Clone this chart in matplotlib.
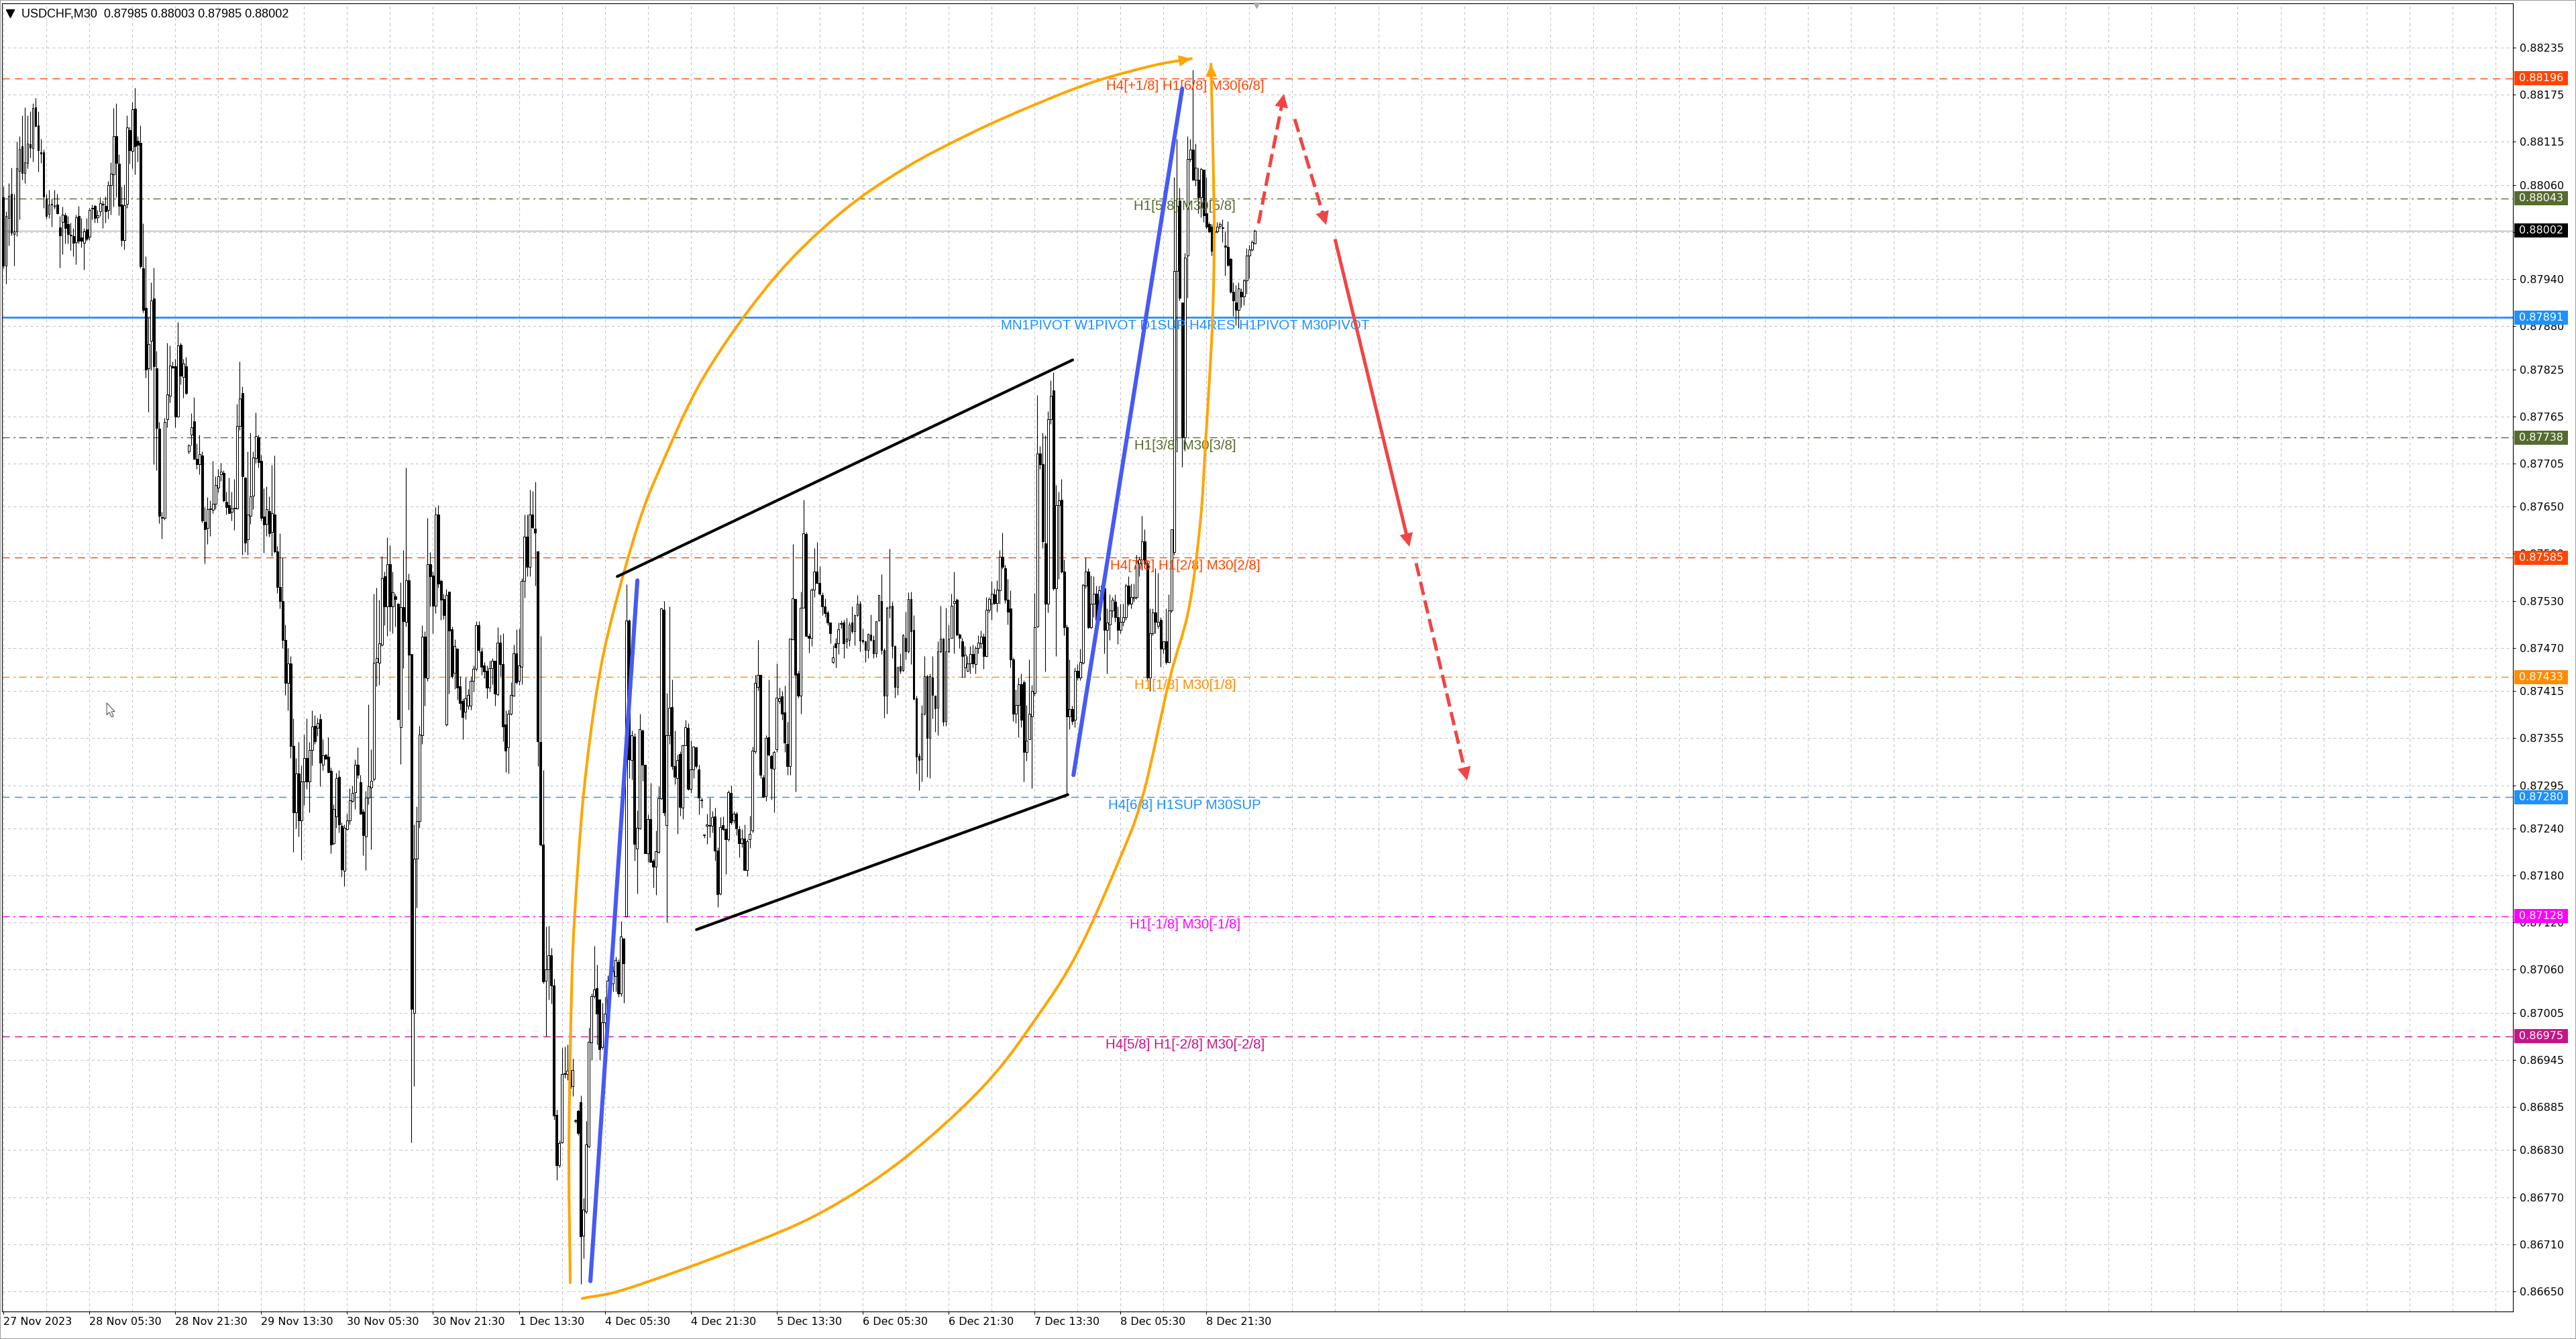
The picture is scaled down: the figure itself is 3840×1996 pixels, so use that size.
import numpy as np
import matplotlib
matplotlib.use("Agg")
import matplotlib.pyplot as plt
from matplotlib.patches import Rectangle, Polygon, PathPatch
from matplotlib.path import Path
from matplotlib.lines import Line2D
from matplotlib.transforms import blended_transform_factory

plt.rcParams['font.family'] = ['DejaVu Sans']

# ---------------- USDCHF M30 candles (price * 1e5), bar 0 = 27 Nov 13:30 ----------------
opens = [
    88044, 87957, 88018, 88049, 87997, 88001, 88078, 88109, 88075, 88088,
    88112, 88107, 88159, 88136, 88102, 88102, 88043, 88023, 88035, 88032,
    88035, 88006, 88013, 88021, 88010, 87996, 87995, 87987, 88020, 87993,
    87986, 88003, 87994, 88030, 88033, 88019, 88026, 88036, 88033, 88028,
    88060, 88073, 88122, 88087, 88035, 87990, 88036, 88130, 88103, 88157,
    88116, 88114, 87954, 87903, 87826, 87861, 87915, 87826, 87749, 87636,
    87636, 87761, 87791, 87829, 87829, 87765, 87856, 87815, 87829, 87720,
    87742, 87759, 87711, 87704, 87715, 87631, 87623, 87647, 87646, 87654,
    87674, 87691, 87693, 87656, 87652, 87643, 87648, 87648, 87753, 87795,
    87687, 87608, 87638, 87664, 87712, 87738, 87708, 87637, 87628, 87644,
    87618, 87640, 87593, 87548, 87530, 87480, 87425, 87450, 87345, 87260,
    87310, 87250, 87300, 87330, 87300, 87340, 87371, 87368, 87379, 87321,
    87334, 87331, 87313, 87221, 87255, 87306, 87243, 87186, 87239, 87250,
    87275, 87286, 87321, 87299, 87261, 87230, 87279, 87292, 87303, 87452,
    87451, 87474, 87561, 87523, 87577, 87523, 87536, 87526, 87369, 87522,
    87503, 87556, 87462, 87005, 87201, 87249, 87359, 87484, 87431, 87577,
    87562, 87524, 87640, 87555, 87532, 87372, 87542, 87494, 87438, 87469,
    87421, 87402, 87389, 87396, 87396, 87428, 87443, 87499, 87466, 87448,
    87441, 87419, 87444, 87454, 87411, 87477, 87449, 87372, 87343, 87386,
    87409, 87463, 87428, 87446, 87555, 87612, 87573, 87640, 87622, 87593,
    87350, 87219, 87046, 87060, 87078, 87040, 86875, 86811, 86840, 86927,
    86927, 86909, 86912, 86868, 86880, 86891, 86721, 86752, 86835, 86967,
    87026, 87036, 87022, 86961, 86993, 87005, 87046, 87042, 87052, 87070,
    87030, 87100, 87128, 87505, 87327, 87357, 87214, 87240, 87365, 87321,
    87208, 87252, 87199, 87191, 87210, 87278, 87519, 87244, 87359, 87395,
    87319, 87304, 87335, 87266, 87346, 87368, 87290, 87315, 87343, 87315,
    87276, 87231, 87243, 87243, 87243, 87255, 87212, 87157, 87244, 87239,
    87226, 87285, 87250, 87259, 87239, 87221, 87227, 87187, 87226, 87237,
    87338, 87420, 87436, 87305, 87281, 87356, 87332, 87316, 87341, 87402,
    87408, 87388, 87348, 87319, 87481, 87532, 87437, 87409, 87521, 87615,
    87485, 87483, 87544, 87567, 87553, 87537, 87523, 87515, 87502, 87452,
    87476, 87476, 87501, 87502, 87478, 87480, 87502, 87491, 87512, 87526,
    87480, 87478, 87467, 87487, 87480, 87463, 87505, 87530, 87467, 87409,
    87521, 87524, 87472, 87420, 87447, 87442, 87483, 87466, 87532, 87493,
    87406, 87332, 87328, 87386, 87434, 87355, 87432, 87409, 87394, 87466,
    87482, 87377, 87466, 87483, 87527, 87531, 87487, 87478, 87445, 87441,
    87450, 87462, 87449, 87470, 87476, 87484, 87460, 87519, 87526, 87538,
    87527, 87543, 87586, 87572, 87531, 87520, 87455, 87386, 87397, 87424,
    87426, 87337, 87354, 87383, 87413, 87497, 87718, 87704, 87603, 87526,
    87761, 87798, 87546, 87652, 87659, 87567, 87496, 87383, 87392, 87378,
    87441, 87432, 87451, 87549, 87567, 87496, 87526, 87539, 87506, 87542,
    87546, 87493, 87500, 87518, 87529, 87509, 87493, 87503, 87509, 87549,
    87526, 87533, 87535, 87578, 87583, 87606, 87578, 87432, 87489, 87515,
    87498, 87506, 87469, 87478, 87452, 87518, 87592, 87950, 88040, 87910,
    87738, 87970, 88093, 88105, 88067, 88067, 88044, 88079, 88024, 88010,
    88007, 88001, 88001, 88008, 88005, 87983, 87981, 87966, 87924, 87910,
    87901, 87924, 87918, 87938, 87970, 87978, 87985,
]
highs = [
    88058, 88026, 88062, 88082, 88049, 88115, 88122, 88149, 88159, 88149,
    88154, 88164, 88171, 88154, 88119, 88105, 88049, 88054, 88043, 88054,
    88049, 88020, 88032, 88025, 88020, 88012, 88005, 88022, 88033, 88018,
    88005, 88018, 88031, 88035, 88035, 88028, 88044, 88040, 88045, 88065,
    88089, 88158, 88164, 88099, 88058, 88061, 88149, 88134, 88166, 88184,
    88122, 88136, 88011, 87969, 87891, 87936, 87955, 87849, 87758, 87643,
    87763, 87859, 87855, 87835, 87838, 87885, 87859, 87838, 87841, 87730,
    87769, 87790, 87731, 87742, 87720, 87649, 87662, 87658, 87708, 87689,
    87698, 87706, 87696, 87669, 87687, 87669, 87685, 87781, 87835, 87803,
    87688, 87720, 87744, 87720, 87770, 87742, 87716, 87673, 87676, 87663,
    87703, 87715, 87600, 87616, 87585, 87500, 87470, 87460, 87380, 87330,
    87350, 87320, 87360, 87380, 87350, 87390, 87384, 87381, 87386, 87354,
    87335, 87356, 87318, 87271, 87311, 87314, 87248, 87245, 87259, 87291,
    87295, 87328, 87343, 87308, 87265, 87288, 87398, 87341, 87539, 87547,
    87531, 87587, 87567, 87611, 87601, 87567, 87539, 87527, 87554, 87595,
    87700, 87565, 87462, 87245, 87268, 87371, 87499, 87491, 87636, 87592,
    87567, 87649, 87652, 87557, 87539, 87545, 87542, 87497, 87481, 87469,
    87434, 87406, 87433, 87418, 87434, 87448, 87504, 87504, 87471, 87452,
    87448, 87454, 87457, 87454, 87496, 87487, 87489, 87390, 87391, 87426,
    87474, 87494, 87495, 87559, 87640, 87640, 87672, 87670, 87682, 87594,
    87485, 87314, 87115, 87116, 87088, 87048, 86882, 86842, 86960, 86962,
    86965, 86945, 86947, 86870, 86882, 86900, 86769, 86867, 86986, 87030,
    87090, 87066, 87023, 87018, 87025, 87053, 87060, 87065, 87077, 87073,
    87122, 87100, 87551, 87507, 87365, 87361, 87263, 87386, 87366, 87321,
    87258, 87298, 87201, 87237, 87294, 87521, 87530, 87413, 87523, 87430,
    87365, 87334, 87338, 87347, 87378, 87374, 87352, 87345, 87344, 87321,
    87279, 87232, 87259, 87279, 87262, 87266, 87216, 87254, 87255, 87241,
    87289, 87295, 87262, 87261, 87243, 87239, 87245, 87226, 87256, 87344,
    87436, 87480, 87436, 87308, 87359, 87430, 87334, 87339, 87450, 87419,
    87415, 87422, 87376, 87482, 87602, 87533, 87441, 87542, 87659, 87618,
    87489, 87546, 87597, 87605, 87574, 87541, 87533, 87518, 87502, 87473,
    87483, 87502, 87505, 87506, 87508, 87503, 87523, 87513, 87537, 87530,
    87495, 87479, 87489, 87513, 87486, 87504, 87537, 87564, 87470, 87523,
    87596, 87529, 87473, 87447, 87463, 87488, 87516, 87541, 87542, 87512,
    87409, 87336, 87397, 87460, 87436, 87437, 87460, 87409, 87478, 87524,
    87483, 87521, 87500, 87539, 87567, 87533, 87489, 87483, 87472, 87460,
    87472, 87474, 87472, 87486, 87492, 87489, 87535, 87535, 87555, 87546,
    87556, 87595, 87617, 87576, 87558, 87543, 87458, 87417, 87432, 87437,
    87429, 87397, 87455, 87423, 87540, 87792, 87727, 87744, 87741, 87772,
    87811, 87821, 87678, 87669, 87685, 87583, 87500, 87455, 87396, 87445,
    87449, 87469, 87552, 87585, 87572, 87562, 87561, 87549, 87549, 87550,
    87549, 87520, 87538, 87535, 87538, 87523, 87526, 87526, 87552, 87561,
    87552, 87552, 87589, 87586, 87638, 87621, 87581, 87520, 87520, 87572,
    87566, 87509, 87478, 87520, 87538, 87621, 88070, 88119, 88056, 87910,
    87973, 88122, 88119, 88207, 88113, 88082, 88082, 88079, 88070, 88013,
    88010, 88013, 88013, 88013, 88016, 88001, 88014, 87967, 87936, 87932,
    87936, 87928, 87940, 87979, 87984, 87990, 88003,
]
lows = [
    87954, 87934, 87983, 87996, 87957, 87995, 88016, 88067, 88062, 88081,
    88095, 88090, 88134, 88077, 88088, 88031, 88017, 88018, 88007, 88030,
    88023, 87955, 87972, 87985, 87985, 87977, 87969, 87959, 87985, 87980,
    87952, 87989, 87990, 88016, 88012, 88012, 88020, 88005, 88012, 88017,
    88022, 88032, 88044, 88021, 87982, 87978, 88031, 88087, 88081, 88073,
    88090, 87954, 87897, 87814, 87771, 87824, 87704, 87696, 87629, 87609,
    87633, 87751, 87783, 87826, 87751, 87764, 87806, 87789, 87793, 87718,
    87728, 87710, 87698, 87691, 87630, 87578, 87602, 87613, 87642, 87647,
    87668, 87683, 87656, 87640, 87642, 87632, 87620, 87647, 87748, 87589,
    87592, 87589, 87628, 87647, 87706, 87700, 87632, 87591, 87613, 87612,
    87587, 87591, 87540, 87520, 87470, 87410, 87390, 87330, 87210, 87240,
    87230, 87200, 87270, 87290, 87260, 87320, 87348, 87358, 87294, 87314,
    87328, 87311, 87208, 87219, 87241, 87235, 87178, 87166, 87238, 87245,
    87273, 87265, 87304, 87258, 87206, 87187, 87271, 87213, 87301, 87421,
    87423, 87472, 87499, 87485, 87491, 87489, 87497, 87378, 87322, 87444,
    87497, 87391, 86840, 86912, 87139, 87241, 87348, 87396, 87428, 87523,
    87489, 87514, 87547, 87506, 87507, 87371, 87412, 87431, 87418, 87404,
    87391, 87354, 87379, 87392, 87391, 87414, 87441, 87464, 87436, 87431,
    87406, 87414, 87424, 87396, 87409, 87434, 87351, 87312, 87310, 87384,
    87408, 87424, 87423, 87424, 87534, 87561, 87561, 87622, 87549, 87319,
    87218, 87042, 86975, 87022, 87017, 86869, 86792, 86808, 86839, 86922,
    86919, 86899, 86899, 86865, 86849, 86659, 86692, 86749, 86833, 86945,
    87024, 86965, 86945, 86959, 86975, 87002, 87040, 87032, 87032, 87025,
    87026, 87018, 87127, 87304, 87302, 87199, 87157, 87239, 87301, 87208,
    87197, 87197, 87165, 87155, 87208, 87277, 87256, 87120, 87348, 87315,
    87296, 87233, 87256, 87252, 87346, 87289, 87285, 87304, 87317, 87258,
    87266, 87228, 87220, 87229, 87235, 87199, 87140, 87155, 87237, 87182,
    87224, 87245, 87247, 87231, 87203, 87216, 87187, 87179, 87215, 87235,
    87336, 87416, 87304, 87279, 87275, 87332, 87277, 87260, 87337, 87399,
    87378, 87337, 87308, 87308, 87480, 87287, 87407, 87386, 87521, 87484,
    87464, 87472, 87535, 87552, 87537, 87512, 87509, 87499, 87476, 87450,
    87445, 87462, 87495, 87457, 87470, 87472, 87489, 87473, 87510, 87466,
    87476, 87452, 87457, 87478, 87457, 87458, 87504, 87462, 87381, 87386,
    87508, 87457, 87407, 87410, 87437, 87440, 87455, 87464, 87449, 87404,
    87310, 87289, 87300, 87384, 87306, 87304, 87380, 87363, 87359, 87464,
    87371, 87371, 87464, 87483, 87463, 87485, 87470, 87432, 87432, 87440,
    87437, 87445, 87437, 87463, 87470, 87443, 87459, 87515, 87506, 87525,
    87516, 87526, 87571, 87527, 87500, 87445, 87377, 87374, 87356, 87369,
    87300, 87326, 87354, 87291, 87409, 87496, 87698, 87597, 87440, 87515,
    87755, 87543, 87460, 87558, 87566, 87486, 87283, 87366, 87372, 87369,
    87429, 87429, 87449, 87546, 87495, 87495, 87509, 87500, 87503, 87535,
    87463, 87437, 87480, 87509, 87503, 87475, 87489, 87498, 87506, 87524,
    87520, 87529, 87532, 87561, 87569, 87572, 87429, 87415, 87486, 87489,
    87495, 87446, 87463, 87449, 87451, 87515, 87589, 87721, 87913, 87701,
    87721, 87916, 88090, 88066, 88059, 88024, 88019, 88013, 88004, 87999,
    87970, 87985, 87999, 88004, 87987, 87944, 87956, 87922, 87893, 87881,
    87878, 87904, 87907, 87921, 87941, 87976, 87985,
]
closes = [
    87957, 88020, 88046, 87999, 88001, 88081, 88106, 88075, 88089, 88113,
    88108, 88158, 88135, 88104, 88100, 88045, 88020, 88035, 88035, 88034,
    88024, 87996, 88022, 88005, 87997, 87996, 87986, 88019, 87989, 87989,
    88001, 87991, 88028, 88031, 88018, 88021, 88037, 88035, 88026, 88060,
    88074, 88122, 88088, 88033, 87990, 88034, 88133, 88104, 88156, 88109,
    88111, 87956, 87901, 87825, 87857, 87913, 87829, 87750, 87638, 87636,
    87758, 87793, 87830, 87827, 87765, 87855, 87817, 87832, 87795, 87728,
    87751, 87711, 87704, 87717, 87632, 87621, 87647, 87648, 87654, 87678,
    87689, 87695, 87658, 87649, 87642, 87648, 87648, 87753, 87788, 87689,
    87604, 87640, 87663, 87713, 87740, 87707, 87636, 87627, 87647, 87616,
    87642, 87593, 87548, 87530, 87480, 87425, 87450, 87345, 87260, 87310,
    87250, 87300, 87330, 87300, 87340, 87370, 87351, 87374, 87324, 87333,
    87329, 87312, 87219, 87265, 87304, 87245, 87188, 87241, 87250, 87276,
    87285, 87321, 87308, 87259, 87231, 87279, 87294, 87301, 87451, 87457,
    87476, 87559, 87523, 87577, 87523, 87541, 87532, 87379, 87522, 87504,
    87556, 87461, 87010, 87201, 87249, 87360, 87484, 87432, 87577, 87561,
    87524, 87640, 87552, 87531, 87512, 87537, 87492, 87434, 87472, 87419,
    87400, 87382, 87406, 87410, 87428, 87443, 87499, 87467, 87446, 87440,
    87419, 87444, 87454, 87412, 87477, 87449, 87370, 87339, 87386, 87410,
    87463, 87426, 87448, 87555, 87612, 87573, 87640, 87624, 87617, 87351,
    87219, 87045, 87060, 87078, 87040, 86874, 86811, 86839, 86927, 86927,
    86931, 86932, 86932, 86867, 86852, 86720, 86754, 86837, 86968, 87026,
    87035, 87004, 86959, 86993, 87004, 87046, 87053, 87058, 87072, 87030,
    87102, 87068, 87505, 87328, 87359, 87220, 87241, 87366, 87321, 87208,
    87252, 87197, 87191, 87211, 87278, 87520, 87260, 87359, 87394, 87319,
    87306, 87327, 87267, 87346, 87369, 87290, 87315, 87344, 87319, 87279,
    87276, 87231, 87245, 87243, 87254, 87212, 87156, 87242, 87239, 87226,
    87286, 87248, 87259, 87240, 87221, 87227, 87187, 87224, 87233, 87339,
    87425, 87436, 87308, 87280, 87355, 87334, 87317, 87337, 87407, 87406,
    87386, 87349, 87319, 87482, 87533, 87436, 87409, 87521, 87616, 87485,
    87483, 87544, 87567, 87553, 87539, 87523, 87514, 87502, 87489, 87458,
    87471, 87494, 87501, 87476, 87482, 87500, 87491, 87512, 87526, 87479,
    87478, 87467, 87488, 87480, 87463, 87504, 87537, 87467, 87409, 87521,
    87523, 87472, 87420, 87445, 87441, 87486, 87466, 87532, 87491, 87405,
    87331, 87327, 87386, 87434, 87355, 87434, 87410, 87393, 87466, 87482,
    87376, 87466, 87482, 87524, 87530, 87487, 87483, 87460, 87461, 87450,
    87462, 87450, 87470, 87477, 87484, 87460, 87519, 87532, 87539, 87527,
    87544, 87586, 87573, 87531, 87516, 87455, 87386, 87397, 87424, 87378,
    87337, 87352, 87386, 87415, 87496, 87718, 87704, 87606, 87526, 87761,
    87791, 87546, 87652, 87658, 87567, 87496, 87383, 87392, 87377, 87441,
    87432, 87452, 87550, 87567, 87496, 87526, 87539, 87506, 87543, 87549,
    87493, 87502, 87518, 87531, 87509, 87493, 87503, 87509, 87549, 87526,
    87535, 87535, 87581, 87583, 87606, 87578, 87432, 87489, 87515, 87503,
    87503, 87469, 87478, 87452, 87518, 87621, 87950, 88033, 87916, 87738,
    87967, 88093, 88105, 88067, 88082, 88044, 88080, 88021, 88007, 88001,
    87976, 88000, 88007, 88010, 88005, 87981, 87958, 87924, 87913, 87901,
    87928, 87918, 87938, 87970, 87978, 87987, 88002,
]

date_ticks = [0, 32, 64, 96, 128, 160, 192, 224, 256, 288, 320, 352, 384, 416, 448]
date_labels = ["27 Nov 2023", "28 Nov 05:30", "28 Nov 21:30", "29 Nov 13:30", "30 Nov 05:30",
               "30 Nov 21:30", "1 Dec 13:30", "4 Dec 05:30", "4 Dec 21:30", "5 Dec 13:30",
               "6 Dec 05:30", "6 Dec 21:30", "7 Dec 13:30", "8 Dec 05:30", "8 Dec 21:30"]
price_ticks = [0.88235, 0.88175, 0.88115, 0.88060, 0.88000, 0.87940, 0.87880, 0.87825,
               0.87765, 0.87705, 0.87650, 0.87590, 0.87530, 0.87470, 0.87415, 0.87355,
               0.87295, 0.87240, 0.87180, 0.87120, 0.87060, 0.87005, 0.86945, 0.86885,
               0.86830, 0.86770, 0.86710, 0.86650]

# Murrey / pivot levels
level_prices = [0.88196, 0.88043, 0.87891, 0.87738, 0.87585, 0.87433, 0.87280, 0.87128, 0.86975]
level_colors = ['#FF4500', '#556B2F', '#1E90FF', '#556B2F', '#FF4500', '#FF8C00', '#1E90FF', '#FF00FF', '#C71585']
level_styles = ['dash', 'dashdot', 'solid', 'dashdot', 'dash', 'dashdot', 'dash', 'dashdot', 'dash']
level_texts = ['H4[+1/8] H1[6/8] M30[6/8]', 'H1[5/8] M30[5/8]',
               'MN1PIVOT W1PIVOT D1SUP H4RES H1PIVOT M30PIVOT', 'H1[3/8] M30[3/8]',
               'H4[7/8] H1[2/8] M30[2/8]', 'H1[1/8] M30[1/8]', 'H4[6/8] H1SUP M30SUP',
               'H1[-1/8] M30[-1/8]', 'H4[5/8] H1[-2/8] M30[-2/8]']
bid_price = 0.88002

# hand-drawn objects, anchor points as (bar, price)
arc_a_bars = [211.1, 210.6, 211.6, 212.8, 216.1, 221.1, 226.8, 236.1, 244.3, 261.1,
              286.0, 311.0, 336.0, 361.0, 383.2, 405.7, 427.9, 442.4]
arc_a_prices = [0.86661, 0.86832, 0.87032, 0.87132, 0.87285, 0.87418, 0.87511, 0.87624, 0.87697, 0.87817,
                0.87937, 0.88022, 0.88082, 0.88127, 0.88161, 0.88191, 0.88212, 0.88221]
arc_b_bars = [215.6, 232.8, 274.0, 304.8, 335.3, 365.7, 386.0, 400.2, 414.7, 424.2,
              434.2, 441.4, 445.7, 447.7, 450.2, 450.9, 450.4, 449.7]
arc_b_prices = [0.86641, 0.86654, 0.86705, 0.86751, 0.86819, 0.86914, 0.87005, 0.87083, 0.87193, 0.87280,
                0.87429, 0.87519, 0.87629, 0.87732, 0.87881, 0.87996, 0.88110, 0.88214]
blue_lines = [([218.6, 236.1], [0.86663, 0.87556]),
              ([398.5, 439.0], [0.87308, 0.88183])]
channel_lines = [([228.6, 398.2], [0.87561, 0.87837]),
                 ([258.1, 396.4], [0.87111, 0.87283])]
red_arrows = [((467.4, 0.88011), (476.9, 0.88176), 'dashed'),
              ((480.9, 0.88144), (492.6, 0.88009), 'dashed'),
              ((495.9, 0.87991), (523.6, 0.87599), 'solid'),
              ((526.1, 0.87578), (545.1, 0.87301), 'dashed')]

# ---------------- geometry of the MT4 window ----------------
W, H = 3840, 1996
PXB = 4.003          # pixels per bar
PXP = 116971.6       # pixels per price unit
X0, X1, Y0, Y1 = 3, 3746, 5, 1955
ymax = 0.88235 + (71 - Y0) / PXP
ymin = 0.86650 - (Y1 - 1925) / PXP
xmin = (X0 - 5) / PXB
xmax = (X1 - 5) / PXB

fig = plt.figure(figsize=(W / 100, H / 100), dpi=100)
fig.patch.set_facecolor('white')
ax = fig.add_axes([X0 / W, (H - Y1) / H, (X1 - X0) / W, (Y1 - Y0) / H])
ax.set_xlim(xmin, xmax)
ax.set_ylim(ymin, ymax)

# grid
for t in price_ticks:
    ax.axhline(t, color='#C4C4C4', lw=0.75, ls=(0, (4, 4)), zorder=0)
for b in range(0, int(xmax) + 1, 16):
    ax.axvline(b, color='#C4C4C4', lw=0.75, ls=(0, (4, 4)), zorder=0)

# levels
style_map = {'dash': (0, (8, 5.5)), 'dashdot': (0, (8, 4, 2, 4)), 'solid': '-'}
for p, col, st, txt in zip(level_prices, level_colors, level_styles, level_texts):
    ax.axhline(p, color=col, lw=2.0 if st == 'solid' else 1.0, ls=style_map[st], zorder=2)
    ax.annotate(txt, xy=(440, p), xytext=(0, -2), textcoords='offset points',
                ha='center', va='top', color=col, fontsize=14.8,
                family=['Liberation Sans', 'DejaVu Sans'], zorder=7)
ax.axhline(bid_price, color='#B4B4B4', lw=1.0, zorder=1)

# candles
o = np.array(opens) / 1e5
c = np.array(closes) / 1e5
hi = np.maximum.reduce([np.array(highs) / 1e5, o, c])
lo = np.minimum.reduce([np.array(lows) / 1e5, o, c])
x = np.arange(len(o))
up = c >= o
ax.vlines(x, lo, hi, color='black', lw=0.8, zorder=3)
body_lo = np.minimum(o, c)
body_h = np.maximum(np.abs(c - o), 1.0 / PXP)
ax.bar(x[up], body_h[up], bottom=body_lo[up], width=0.72, color='white',
       edgecolor='black', linewidth=0.75, zorder=4)
ax.bar(x[~up], body_h[~up], bottom=body_lo[~up], width=0.72, color='black',
       edgecolor='black', linewidth=0.75, zorder=4)


def head(p0, p1, color, ms, hl, hw, z=9):
    ax.annotate('', xy=p1, xytext=p0,
                arrowprops=dict(arrowstyle=f'-|>,head_length={hl},head_width={hw}',
                                color=color, lw=0, mutation_scale=ms,
                                shrinkA=0, shrinkB=0), zorder=z)


def back_off(p0, p1, px):
    dx = (p1[0] - p0[0]) * PXB
    dy = (p1[1] - p0[1]) * PXP
    f = px / np.hypot(dx, dy)
    return (p1[0] - (p1[0] - p0[0]) * f, p1[1] - (p1[1] - p0[1]) * f)


def smooth_curve(xs, ys, color, lw, z=8):
    # Catmull-Rom through the anchors, drawn as cubic Bezier segments
    pts = np.column_stack([np.asarray(xs) * PXB, np.asarray(ys) * PXP])
    ext = np.vstack([2 * pts[0] - pts[1], pts, 2 * pts[-1] - pts[-2]])
    verts = [pts[0]]
    codes = [Path.MOVETO]
    for i in range(1, len(ext) - 2):
        p0, p1, p2, p3 = ext[i - 1], ext[i], ext[i + 1], ext[i + 2]
        verts += [p1 + (p2 - p0) / 6, p2 - (p3 - p1) / 6, p2]
        codes += [Path.CURVE4] * 3
    verts = np.array(verts) / np.array([PXB, PXP])
    ax.add_patch(PathPatch(Path(verts, codes), fill=False, ec=color, lw=lw,
                           capstyle='round', zorder=z))


# orange curved arrows
orange = '#FFA500'
smooth_curve(arc_a_bars, arc_a_prices, orange, 2.9)
head((arc_a_bars[-2], arc_a_prices[-2]), (arc_a_bars[-1], arc_a_prices[-1]), orange, 16, 0.85, 0.38)
smooth_curve(arc_b_bars, arc_b_prices, orange, 2.9)
head((arc_b_bars[-2], arc_b_prices[-2]), (arc_b_bars[-1], arc_b_prices[-1]), orange, 16, 0.85, 0.38)

# blue impulse lines
for bx, by in blue_lines:
    ax.plot(bx, by, color='#465AF5', lw=4.4, solid_capstyle='round', zorder=8)

# channel
for bx, by in channel_lines:
    ax.plot(bx, by, color='black', lw=3.0, solid_capstyle='round', zorder=8)

# red forecast arrows
red = '#F24444'
for p0, p1, st in red_arrows:
    pm = back_off(p0, p1, 14)
    if st == 'dashed':
        ax.plot([p0[0], pm[0]], [p0[1], pm[1]], color=red, lw=3.6,
                ls=(0, (4, 1.7)), dash_capstyle='butt', zorder=9)
    else:
        ax.plot([p0[0], pm[0]], [p0[1], pm[1]], color=red, lw=3.6,
                solid_capstyle='butt', zorder=9)
    head(p0, p1, red, 20, 0.72, 0.36, z=10)

# mouse pointer
cur_b, cur_p = 38.5, 0.87400
cursor_px = [(0, 0), (0, 18), (4, 14), (7, 21), (10, 20), (7, 13), (12, 13)]
ax.add_patch(Polygon([(cur_b + dx / PXB, cur_p - dy / PXP) for dx, dy in cursor_px],
                     closed=True, fc='white', ec='#555555', lw=0.8, zorder=12))

# chart shift marker
ax.plot([466.7], [ymax - 3 / PXP], marker='v', ms=6, color='#A8A8A8',
        ls='none', clip_on=False, zorder=12)

# axes
for s in ax.spines.values():
    s.set_linewidth(0.8)
    s.set_color('black')
ax.yaxis.tick_right()
ax.set_yticks(price_ticks)
ax.set_yticklabels([f'{t:.5f}' for t in price_ticks])
ax.set_xticks(date_ticks)
ax.set_xticklabels(date_labels, ha='left')
ax.tick_params(axis='y', direction='out', length=3, width=0.75, pad=4, labelsize=11.5)
ax.tick_params(axis='x', direction='out', length=3, width=0.75, pad=3, labelsize=11.5)

# coloured price tags on the price scale
tr = blended_transform_factory(ax.transAxes, ax.transData)
box_h = 21 / PXP
box_w = 80 / (X1 - X0)
tag_prices = level_prices + [bid_price]
tag_colors = level_colors + ['black']
for p, col in zip(tag_prices, tag_colors):
    ax.add_patch(Rectangle((1.0006, p - box_h / 2), box_w, box_h, transform=tr,
                           fc=col, ec='none', clip_on=False, zorder=10))
    ax.text(1.0006 + box_w / 2, p, f'{p:.5f}', transform=tr, ha='center', va='center',
            color='white', fontsize=11.5, clip_on=False, zorder=11)

# title
fig.text(32 / W, 1 - 21 / H, 'USDCHF,M30  0.87985 0.88003 0.87985 0.88002',
         fontsize=13, family=['Liberation Sans', 'DejaVu Sans'], va='center', ha='left')
fig.add_artist(Line2D([15 / W], [1 - 20 / H], marker='v', ms=8, color='black', ls='none',
                      transform=fig.transFigure))
fig.add_artist(Rectangle((0, 0), 1, 1, transform=fig.transFigure, fill=False,
                         ec='#A0A0A0', lw=1.5))

fig.savefig('out.png', dpi=100, facecolor='white')
